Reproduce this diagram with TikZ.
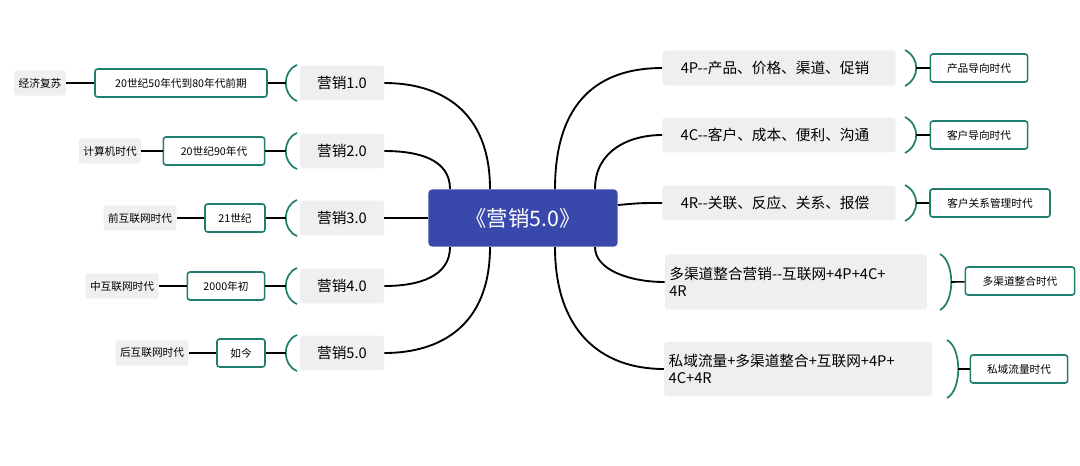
\documentclass[tikz,border=0pt]{standalone}
\usepackage{fontspec}
\setmainfont{Noto Sans CJK SC}
\usepackage{tikz}
\usetikzlibrary{calc}
\definecolor{hubblue}{HTML}{3949AB}
\definecolor{tealline}{HTML}{1F7F6E}
\definecolor{boxgray}{HTML}{EFEFEF}
\begin{document}
\begin{tikzpicture}[x=0.75pt,y=-0.75pt,
      hub/.style={rectangle,rounded corners=3pt,fill=hubblue,text=white,minimum width=142pt,minimum height=43pt,font=\fontsize{16}{18}\selectfont},
      era/.style={rectangle,rounded corners=2pt,fill=boxgray,minimum height=26pt,font=\fontsize{11}{13}\selectfont},
      wide/.style={era,align=left,text width=#1,minimum height=41pt},
      tag/.style={rectangle,rounded corners=2pt,draw=tealline,line width=1.2pt,fill=white,minimum height=21pt,font=\fontsize{8}{10}\selectfont},
      note/.style={rectangle,rounded corners=2pt,fill=boxgray,minimum height=19pt,font=\fontsize{8}{10}\selectfont},
      branch/.style={line width=1.4pt},
      brace/.style={draw=tealline,line width=1.3pt},
      link/.style={line width=1.2pt}]
      \useasboundingbox (0,0) rectangle (1080,465);

      \node[hub] (hub) at (523,218) {《营销5.0》};

      % left side
      \node[era,minimum width=63pt] (m1) at (342,83)  {营销1.0};
      \node[era,minimum width=63pt] (m2) at (342,151) {营销2.0};
      \node[era,minimum width=63pt] (m3) at (342,218) {营销3.0};
      \node[era,minimum width=63pt] (m4) at (342,286) {营销4.0};
      \node[era,minimum width=63pt] (m5) at (342,353) {营销5.0};

      \node[tag,minimum width=129pt] (t1) at (181,83)  {20世纪50年代到80年代前期};
      \node[tag,minimum width=76pt]  (t2) at (214,151) {20世纪90年代};
      \node[tag,minimum width=45pt]  (t3) at (235,218) {21世纪};
      \node[tag,minimum width=58pt]  (t4) at (226,286) {2000年初};
      \node[tag,minimum width=36pt]  (t5) at (241,353) {如今};

      \node[note] (n1) at (40,83)   {经济复苏};
      \node[note] (n2) at (110,151) {计算机时代};
      \node[note] (n3) at (140,218) {前互联网时代};
      \node[note] (n4) at (122,286) {中互联网时代};
      \node[note] (n5) at (152,353) {后互联网时代};

      % right side
      \node[era,minimum width=175pt,align=left] (r1) at (779,68)  {4P-{}-产品、价格、渠道、促销\hspace{6pt}};
      \node[era,minimum width=175pt,align=left] (r2) at (779,135) {4C-{}-客户、成本、便利、沟通\hspace{6pt}};
      \node[era,minimum width=175pt,align=left] (r3) at (779,203) {4R-{}-关联、反应、关系、报偿\hspace{6pt}};
      \node[wide=190pt] (r4) at (796,282) {多渠道整合营销-{}-互联网+4P+4C+\\4R};
      \node[wide=194pt] (r5) at (798,369) {私域流量+多渠道整合+互联网+4P+\\4C+4R};

      \node[tag,minimum width=73pt] (s1) at (979,68)  {产品导向时代};
      \node[tag,minimum width=73pt] (s2) at (979,135) {客户导向时代};
      \node[tag,minimum width=90pt] (s3) at (990,203) {客户关系管理时代};
      \node[tag,minimum width=82pt] (s4) at (1020,281) {多渠道整合时代};
      \node[tag,minimum width=73pt] (s5) at (1019,369) {私域流量时代};

      % branches from the hub
      \draw[branch] (490,189) .. controls (490,110) and (440,83) .. (m1.east);
      \draw[branch] (450,189) .. controls (450,160) and (420,151) .. (m2.east);
      \draw[branch] (hub.west) -- (m3.east);
      \draw[branch] (450,247) .. controls (450,276) and (420,286) .. (m4.east);
      \draw[branch] (490,247) .. controls (490,326) and (440,353) .. (m5.east);

      \draw[branch] (555,189) .. controls (555,100) and (600,68) .. (r1.west);
      \draw[branch] (595,189) .. controls (595,150) and (630,135) .. (r2.west);
      \draw[branch] (618,205) .. controls (640,203) .. (r3.west);
      \draw[branch] (595,247) .. controls (595,270) and (630,282) .. (r4.west);
      \draw[branch] (555,247) .. controls (555,330) and (600,369) .. (r5.west);

      % left braces and links
      \foreach \i/\y in {1/83,2/151,3/218,4/286,5/353}{
        \draw[brace] (297,\y-18) .. controls (282,\y-12) and (282,\y+12) .. (297,\y+18);
        \coordinate (b\i) at (286,\y);
      }
      \draw[link] (t1) -- (b1);
      \draw[link] (t2) -- (b2);
      \draw[link] (t3) -- (b3);
      \draw[link] (t4) -- (b4);
      \draw[link] (t5) -- (b5);
      \draw[link] (n1) -- (t1);
      \draw[link] (n2) -- (t2);
      \draw[link] (n3) -- (t3);
      \draw[link] (n4) -- (t4);
      \draw[link] (n5) -- (t5);

      % right braces and links
      \foreach \i/\x/\y/\h in {1/905/68/18,2/905/135/18,3/905/203/18,4/940/282/28,5/947/369/29}{
        \draw[brace] (\x,\y-\h) .. controls (\x+15,\y-\h+8) and (\x+15,\y+\h-8) .. (\x,\y+\h);
        \coordinate (c\i) at (\x+11,\y);
      }
      \draw[link] (c1) -- (s1);
      \draw[link] (c2) -- (s2);
      \draw[link] (c3) -- (s3);
      \draw[link] (c4) -- (s4);
      \draw[link] (c5) -- (s5);
\end{tikzpicture}
\end{document}
